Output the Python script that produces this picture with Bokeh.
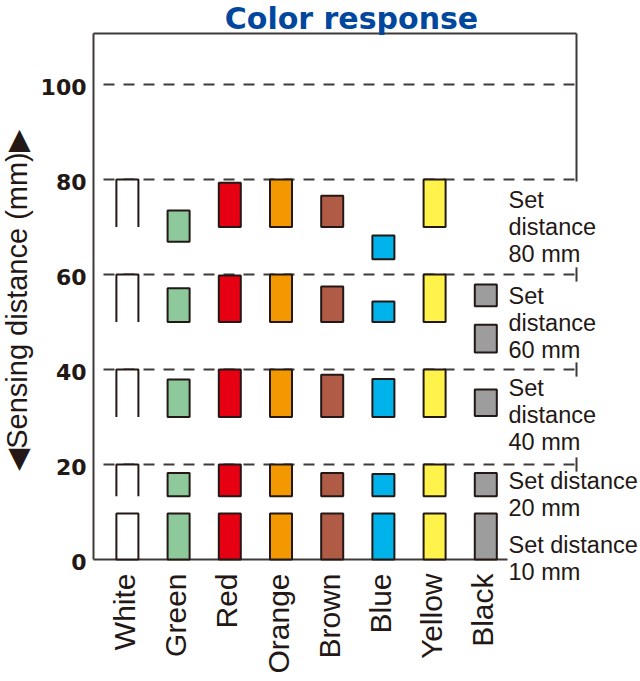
import numpy as np
from bokeh.plotting import figure
from bokeh.models import ColumnDataSource, Range1d
from bokeh.core.properties import value
from bokeh.embed import file_html
from bokeh.resources import INLINE

# ---------------- data ----------------
categories = ["White", "Green", "Red", "Orange", "Brown", "Blue", "Yellow", "Black"]
bar_colors = ["#ffffff", "#8dc99b", "#e60012", "#f39800", "#b05b45", "#00b4eb", "#fff24a", "#9d9d9d"]

set_distances = [80, 60, 40, 20, 10]
top_80 = [80, 73.5, 79.3, 80, 76.6, 68.2, 80, None]
bottom_80 = [70, 66.9, 70, 70, 70, 63.2, 70, None]
top_60 = [60, 57.1, 59.8, 60, 57.5, 54.3, 60, 57.9]
bottom_60 = [50, 50, 50, 50, 50, 50, 50, 53.3]
top_40 = [40, 37.9, 40, 40, 38.9, 38.0, 40, 35.8]
bottom_40 = [30, 30, 30, 30, 30, 30, 30, 30.2]
top_20 = [20, 18.2, 20, 20, 18.2, 18.0, 20, 18.2]
bottom_20 = [13.3, 13.3, 13.3, 13.3, 13.3, 13.3, 13.3, 13.3]
top_10 = [9.7, 9.7, 9.7, 9.7, 9.7, 9.7, 9.7, 9.7]
bottom_10 = [0, 0, 0, 0, 0, 0, 0, 0]
# second black response box between the 60 and 40 set distances
extra_black_top = [49.4]
extra_black_bottom = [43.6]

y_ticks = [0, 20, 40, 60, 80, 100]
grid_levels = [20, 40, 60, 80, 100]
setting_labels = ["Set\ndistance\n80 mm", "Set\ndistance\n60 mm", "Set\ndistance\n40 mm",
                  "Set distance\n20 mm", "Set distance\n10 mm"]
title_text = "Color response"
y_label_text = "\u25c0Sensing distance (mm)\u25b6"

# ---------------- layout ----------------
W, H = 640, 681
PX_X = 51.2           # pixels per category step
PX_Y = 4.75           # pixels per mm
X_ORIGIN = 126.9      # page x of the first category
Y_ORIGIN = 559.0      # page y of 0 mm


def px_x(px):  # page pixel -> data x
    return (px - X_ORIGIN) / PX_X


def px_y(py):  # page pixel -> data y
    return (Y_ORIGIN - py) / PX_Y


INK = "#231815"
LINE = "#3e3a39"
half_w = 0.215

p = figure(width=W, height=H, output_backend="svg", toolbar_location=None,
           x_range=Range1d(px_x(0), px_x(W)), y_range=Range1d(px_y(H), px_y(0)),
           min_border=0, min_border_left=0, min_border_right=0,
           min_border_top=0, min_border_bottom=0)
p.outline_line_color = None
p.grid.visible = False
p.axis.visible = False
p.background_fill_color = "white"

# dashed reference lines
dash_l, dash_r = px_x(103), px_x(575)
p.segment(x0=[dash_l] * len(grid_levels), x1=[dash_r] * len(grid_levels),
          y0=grid_levels, y1=grid_levels, line_color=LINE,
          line_width=1.8, line_dash="11 9")

# frame
fl, fr, ft = px_x(93), px_x(576), px_y(33)
p.line([fl, fl], [ft, 0], line_color=LINE, line_width=2)
p.line([fl, fr], [ft, ft], line_color=LINE, line_width=2)
p.line([fr, fr], [ft, 79.6], line_color=LINE, line_width=2)
p.line([fl, px_x(507)], [0, 0], line_color=LINE, line_width=2)
tick_levels = [60, 40, 20]
p.segment(x0=[fr] * 3, x1=[fr] * 3, y0=[v - 1.5 for v in tick_levels],
          y1=[v + 1.5 for v in tick_levels], line_color=LINE, line_width=2)

# bars
tops = [top_80, top_60, top_40, top_20, top_10]
bottoms = [bottom_80, bottom_60, bottom_40, bottom_20, bottom_10]
closed = dict(left=[], right=[], bottom=[], top=[], color=[])
open_ = dict(left=[], right=[], bottom=[], top=[])
for g, sd in enumerate(set_distances):
    for i, cat in enumerate(categories):
        t, b = tops[g][i], bottoms[g][i]
        if t is None:
            continue
        if cat == "White" and sd != 10:
            open_["left"].append(i - half_w); open_["right"].append(i + half_w)
            open_["bottom"].append(b); open_["top"].append(t)
        else:
            closed["left"].append(i - half_w); closed["right"].append(i + half_w)
            closed["bottom"].append(b); closed["top"].append(t)
            closed["color"].append(bar_colors[i])
bi = categories.index("Black")
for t, b in zip(extra_black_top, extra_black_bottom):
    closed["left"].append(bi - half_w); closed["right"].append(bi + half_w)
    closed["bottom"].append(b); closed["top"].append(t)
    closed["color"].append(bar_colors[bi])

p.quad(left="left", right="right", bottom="bottom", top="top", fill_color="color",
       line_color=INK, line_width=2, source=ColumnDataSource(closed))
p.quad(left="left", right="right", bottom="bottom", top="top", fill_color="white",
       line_color=None, source=ColumnDataSource(open_))
p.multi_line(xs=[[l, l, r, r] for l, r in zip(open_["left"], open_["right"])],
             ys=[[b, t, t, b] for b, t in zip(open_["bottom"], open_["top"])],
             line_color=INK, line_width=2)

# y tick labels
p.text(x=[px_x(86)] * len(y_ticks), y=[v - 2 / PX_Y for v in y_ticks],
       text=[str(v) for v in y_ticks],
       text_align="right", text_baseline="middle", text_font=value("DejaVu Sans"),
       text_font_style="bold", text_font_size="22px", text_color=INK)

# category labels (rotated)
p.text(x=[i - 3 / PX_X for i in range(len(categories))], y=[px_y(573)] * len(categories),
       text=categories, angle=np.pi / 2, text_align="right", text_baseline="middle",
       text_font=value("Liberation Sans"), text_font_size="30px", text_color=INK)

# title
p.text(x=[px_x(351)], y=[px_y(18)], text=[title_text], text_align="center",
       text_baseline="alphabetic", text_font=value("DejaVu Sans"),
       text_font_style="bold", text_font_size="30px", text_color="#00479d")

# y axis label
p.text(x=[px_x(16)], y=[px_y(300)], text=[y_label_text], angle=np.pi / 2,
       text_align="center", text_baseline="alphabetic",
       text_font=value("Liberation Sans"), text_font_size="29px", text_color=INK)

# set distance labels
first_baselines = [199.2, 295.8, 387.5, 480.8, 544.2]
line_gap = 27.0
lx, ly, lt = [], [], []
for base, txt in zip(first_baselines, setting_labels):
    for k, line in enumerate(txt.split("\n")):
        lx.append(px_x(508)); ly.append(px_y(base + k * line_gap)); lt.append(line)
p.text(x=lx, y=ly, text=lt, text_font=value("Liberation Sans"), text_font_size="23.5px",
       text_color=INK, text_align="left", text_baseline="alphabetic")

open("out.html", "w").write(file_html(p, INLINE))
